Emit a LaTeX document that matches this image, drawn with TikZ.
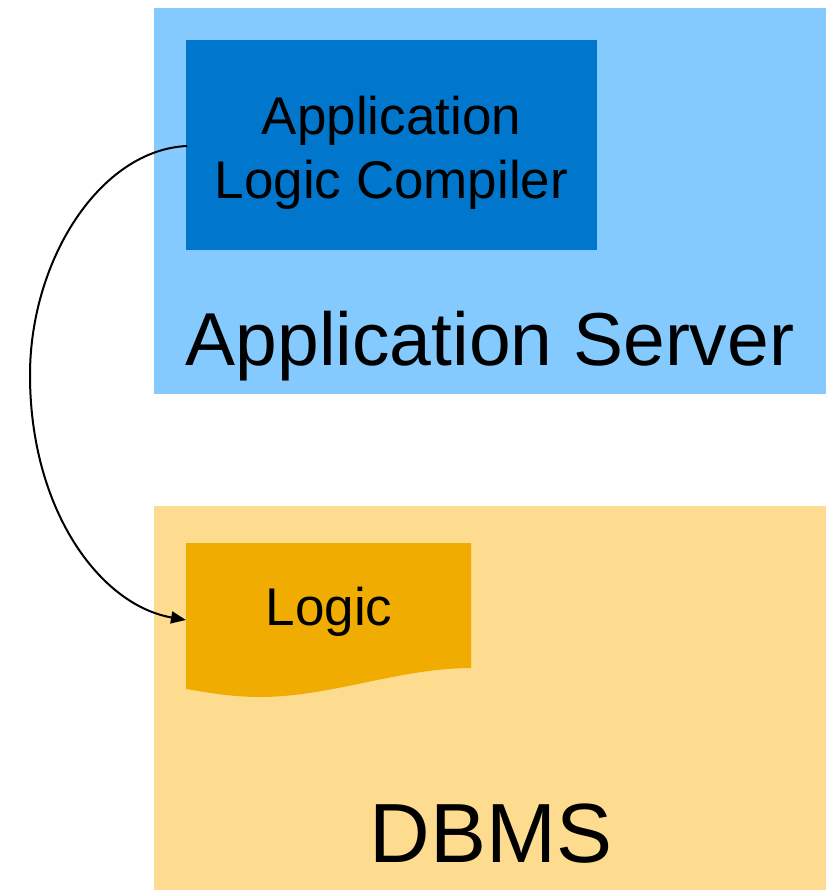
\documentclass[tikz,border=0pt]{standalone}
\usepackage{fontspec}
\setmainfont{Liberation Sans}
\usetikzlibrary{arrows.meta}
\definecolor{lblue}{HTML}{85CAFF}
\definecolor{dblue}{HTML}{0077CC}
\definecolor{lyellow}{HTML}{FDDC90}
\definecolor{dorange}{HTML}{F0AC00}
\begin{document}
\begin{tikzpicture}[x=1pt,y=-1pt,
  zone/.style={inner sep=0pt, outer sep=0pt, anchor=north west},
]
\useasboundingbox (0,0) rectangle (836,890);
% Application server zone
\node[zone, fill=lblue, minimum width=672pt, minimum height=386pt] (appsrv) at (154,8) {};
\node[zone, fill=dblue, minimum width=411pt, minimum height=210pt] (alc) at (186,40) {};
\node[align=center, inner sep=0pt, font=\fontsize{53}{64}\selectfont] (alctext) at (391.5,153) {Application\\Logic Compiler};
\node[anchor=base, inner sep=0pt, font=\fontsize{75}{90}\selectfont] (appsrvtext) at (490,365) {Application Server};
% DBMS zone
\node[zone, fill=lyellow, minimum width=672pt, minimum height=384pt] (dbms) at (154,506) {};
\fill[dorange] (186,543) -- (471,543) -- (471,668)
  .. controls (400,668) and (330,697) .. (260,697)
  .. controls (230,697) and (205,692) .. (186,689) -- cycle;
\coordinate (logicw) at (186,620);
\node[anchor=base, inner sep=0pt, font=\fontsize{53}{64}\selectfont] (logictext) at (329,625) {Logic};
\node[anchor=base, inner sep=0pt, font=\fontsize{84}{100}\selectfont] (dbmstext) at (491,862) {DBMS};
% connector
\coordinate (alcw) at (187,146);
\coordinate (mid) at (30,375);
\draw[line width=2pt, -{Triangle[length=15pt,width=12pt]}] (alcw)
  .. controls (100,150) and (30,260) .. (mid)
  .. controls (30,510) and (100,605) .. (logicw);
\end{tikzpicture}
\end{document}
